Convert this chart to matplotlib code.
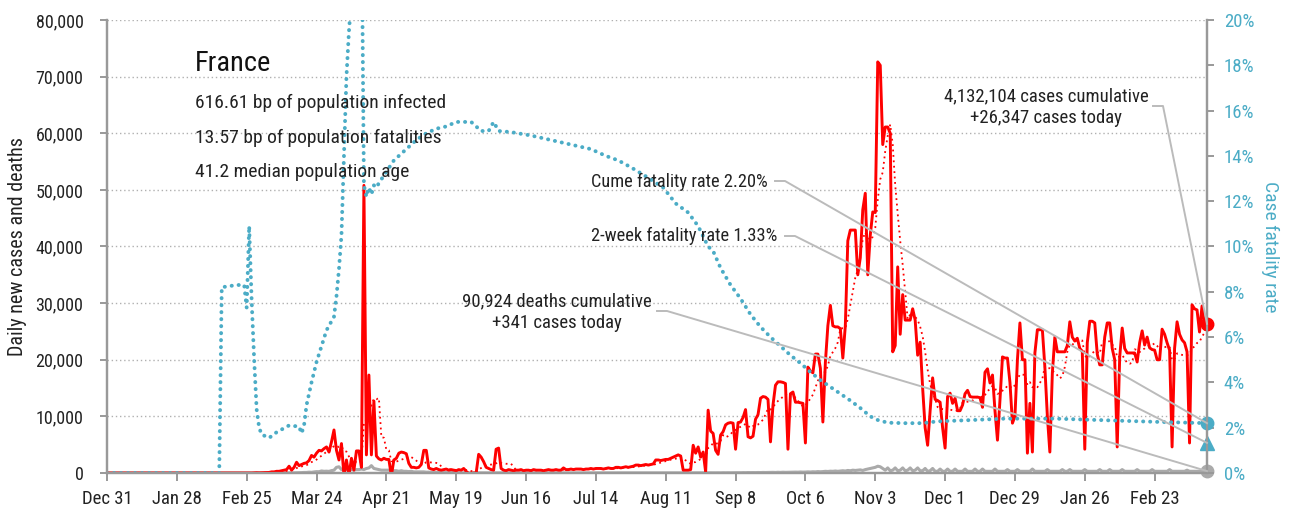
import pandas as pd
import matplotlib
matplotlib.use("Agg")
import matplotlib.pyplot as plt
import matplotlib.dates as mdates
from matplotlib import font_manager as fm
from matplotlib.lines import Line2D

# --- Schrift: schmale Grotesk, falls vorhanden ---
installed = {f.name for f in fm.fontManager.ttflist}
base = next((n for n in ["Liberation Sans Narrow", "Roboto Condensed"] if n in installed), "Liberation Sans")
plt.rcParams["font.family"] = [base, "DejaVu Sans"]

W, H = 1297, 511
RED, TEAL, GREY = "#ff0000", "#4bacc6", "#aaaaaa"

# --- Daten (ab 31.12.2019, taeglich, in Tausend) ---
start = "2019-12-31"
new_cases_k = [
    0, 0, 0, 0, 0, 0, 0,  0, 0, 0, 0, 0, 0, 0,  0, 0, 0, 0, 0, 0, 0,  0, 0, 0, 0, 0, 0, 0,
    0, 0, 0, 0, 0, 0, 0,  0, 0, 0, 0, 0, 0, 0,  0, 0, 0, 0, 0, 0, 0,  0, 0, 0, 0, 0, 0, 0,
    0, 0, 0, 0.02, 0.05, 0.03, 0.05,
    0.06, 0.1, 0.1, 0.2, 0.2, 0.3, 0.3,
    0.4, 0.5, 0.6, 1.2, 0.5, 1.0, 1.9,
    1.3, 1.5, 1.7, 1.8, 2.2, 3.1, 2.8,
    3.5, 4.0, 3.9, 4.3, 4.6, 3.7, 5.5,
    7.6, 4.0, 2.3, 5.2, -0.5, 2.3, -0.5,
    2.6, 0.5, 3.9, 3.9, 1.0, 50.8, 3.2,
    17.3, 3.2, 12.7, 3.0, 2.5, 2.3, 2.6,
    2.4, 2.4, -0.5, 2.3, 2.6, 3.5, 3.7,
    3.6, 3.4, 1.7, 1.0, 1.0, 0.9, 1.0,
    1.5, 4.0, 4.0, 0.9, 0.7, 0.6, 0.8,
    0.6, 0.5, 0.6, 0.7, 0.5, 0.6, 0.5,
    0.4, 0.6, 0.5, 0.8, 0.3, -0.1, -0.1,
    0.0, 0.0, 3.3, 2.8, 2.0, 1.0, 0.8,
    0.6, 0.5, 4.2, 4.4, 0.8, 0.5, 0.4,
    0.6, 0.5, 0.4, 0.5, 0.5, 0.6, 0.4,
    0.5, 0.5, 0.4, 0.6, 0.5, 0.5, 0.5,
    0.4, 0.5, 0.6, 0.5, 0.5, 0.6, 0.5,
    0.5, 0.9, 0.6, 0.6, 0.7, 0.6, 0.7,
    0.7, 0.7, 0.6, 0.7, 0.7, 0.8, 0.7,
    0.8, 0.8, 0.8, 0.7, 0.8, 0.9, 0.8,
    0.8, 1.0, 1.0, 0.9, 1.0, 1.1, 1.0,
    1.1, 1.2, 1.4, 1.4, 1.3, 1.4, 1.5,
    1.4, 1.5, 1.6, 2.3, 2.3, 2.2, 2.3,
    2.4, 2.4, 2.6, 2.8, 3.0, 3.2, 3.0,
    0.5, 0.5, 0.5, 0.6, 4.9, 3.5, 4.6,
    2.8, 3.7, 0.2, 11.1, 7.4, 7.0, 4.0,
    3.3, 6.7, 7.3, 8.5, 8.8, 8.9, 8.8,
    4.2, 8.9, 9.0, 9.8, 11.2, 6.4, 6.2,
    6.5, 9.5, 10.3, 13.2, 13.5, 13.4, 13.0,
    5.5, 12.0, 15.5, 16.1, 16.1, 16.0, 15.8,
    4.2, 14.0, 14.3, 12.5, 12.5, 12.4, 12.3,
    5.3, 18.7, 18.0, 17.7, 21.0, 21.0, 18.5,
    9.0, 19.5, 26.0, 29.6, 26.0, 25.8, 25.8,
    25.5, 20.3, 26.0, 41.0, 42.9, 42.9, 42.9,
    35.0, 38.0, 46.5, 49.4, 35.0, 42.0, 46.1,
    46.0, 72.6, 72.0, 58.0, 61.1, 61.1, 60.0,
    21.4, 22.5, 36.4, 24.5, 31.5, 27.0, 27.0,
    27.0, 29.0, 27.0, 20.8, 23.1, 15.0, 8.0,
    4.9, 11.0, 16.8, 13.0, 12.8, 12.5, 8.0,
    4.4, 13.5, 14.1, 12.3, 13.2, 11.0, 11.0,
    12.0, 14.0, 14.6, 13.5, 13.4, 13.4, 13.4,
    13.3, 11.6, 17.8, 18.4, 15.9, 17.3, 11.0,
    5.8, 12.9, 20.5, 20.3, 20.3, 16.0, 8.8,
    10.0, 20.0, 26.5, 20.0, 20.0, 3.5, 12.3,
    3.7, 21.2, 25.3, 25.3, 25.3, 18.7, 10.0,
    3.7, 17.7, 24.0, 21.4, 21.4, 21.4, 21.4,
    22.5, 26.7, 24.0, 23.3, 23.8, 22.0, 21.5,
    4.2, 23.0, 26.8, 26.8, 26.5, 21.0, 19.1,
    19.1, 24.0, 26.5, 26.5, 22.0, 20.0, 4.6,
    20.5, 25.6, 22.0, 21.2, 21.2, 21.2, 21.2,
    19.6, 23.0, 25.1, 22.6, 24.0, 22.1, 21.8,
    21.7, 20.0, 20.0, 25.4, 24.5, 23.0, 21.7,
    4.6, 22.0, 26.7, 24.5, 23.5, 23.0, 21.4,
    5.3, 29.7, 29.0, 28.8, 24.9, 29.5, 26.1,
    26.347,
]
new_deaths_k = [
    0, 0, 0, 0, 0, 0, 0,  0, 0, 0, 0, 0, 0, 0,  0, 0, 0, 0, 0, 0, 0,
    0, 0, 0, 0, 0, 0, 0,  0, 0, 0, 0, 0, 0, 0,  0, 0, 0, 0, 0, 0, 0,
    0, 0, 0, 0, 0.001, 0, 0,
    0, 0, 0, 0, 0, 0, 0,
    0, 0, 0, 0.001, 0, 0, 0.001,
    0, 0.001, 0.002, 0.001, 0.003, 0.005, 0.009,
    0.01, 0.01, 0.015, 0.03, 0.02, 0.03, 0.04,
    0.05, 0.07, 0.1, 0.1, 0.15, 0.12, 0.19,
    0.24, 0.23, 0.36, 0.3, 0.32, 0.29, 0.42,
    0.5, 1.0, 1.1, 0.6, 0.8, 0.6, 0.8,
    0.6, 0.5, 0.6, 0.6, 0.7, 0.6, 0.8,
    0.9, 1.3, 0.8, 0.7, 0.6, 0.5, 0.5,
    0.5, 0.5, 0.4, 0.4, 0.4, 0.3, 0.4,
    0.3, 0.3, 0.25, 0.3, 0.2, 0.2, 0.2,
    0.2, 0.2, 0.15, 0.15, 0.1, 0.1, 0.1,
    0.1, 0.08, 0.1, 0.07, 0.06, 0.08, 0.05,
    0.05, 0.06, 0.04, 0.03, 0.05, 0.03, 0.03,
    0.03, 0.02, 0.03, 0.02, 0.03, 0.02, 0.03,
    0.02, 0.03, 0.02, 0.03, 0.02, 0.02, 0.03,
    0.02, 0.02, 0.03, 0.02, 0.02, 0.02, 0.02,
    0.02, 0.02, 0.02, 0.01, 0.02, 0.02, 0.02,
    0.01, 0.02, 0.01, 0.02, 0.01, 0.02, 0.01,
    0.01, 0.02, 0.01, 0.01, 0.02, 0.01, 0.01,
    0.01, 0.01, 0.02, 0.01, 0.01, 0.01, 0.02,
    0.01, 0.01, 0.01, 0.02, 0.01, 0.01, 0.01,
    0.01, 0.02, 0.01, 0.01, 0.01, 0.02, 0.01,
    0.01, 0.01, 0.02, 0.01, 0.02, 0.01, 0.01,
    0.02, 0.01, 0.02, 0.01, 0.02, 0.02, 0.01,
    0.02, 0.02, 0.01, 0.02, 0.02, 0.02, 0.02,
    0.02, 0.02, 0.02, 0.03, 0.02, 0.03, 0.02,
    0.02, 0.03, 0.02, 0.03, 0.04, 0.03, 0.03,
    0.04, 0.03, 0.05, 0.04, 0.05, 0.04, 0.05,
    0.05, 0.06, 0.05, 0.07, 0.06, 0.08, 0.07,
    0.08, 0.07, 0.09, 0.08, 0.1, 0.09, 0.1,
    0.1, 0.12, 0.1, 0.13, 0.11, 0.14, 0.12,
    0.13, 0.15, 0.14, 0.16, 0.15, 0.18, 0.16,
    0.17, 0.2, 0.18, 0.22, 0.2, 0.25, 0.22,
    0.25, 0.3, 0.27, 0.32, 0.3, 0.35, 0.3,
    0.35, 0.4, 0.35, 0.45, 0.4, 0.5, 0.45,
    0.5, 0.55, 0.45, 0.6, 0.7, 0.8, 0.9,
    1.0, 1.2, 1.1, 0.8, 0.5, 0.9, 0.4,
    0.5, 0.9, 0.4, 0.5, 0.9, 0.4, 0.5,
    0.9, 0.4, 0.5, 0.9, 0.4, 0.4, 0.8,
    0.3, 0.4, 0.8, 0.3, 0.3, 0.7, 0.3,
    0.3, 0.7, 0.3, 0.3, 0.7, 0.3, 0.3,
    0.3, 0.7, 0.3, 0.3, 0.3, 0.7, 0.3,
    0.3, 0.7, 0.3, 0.3, 0.3, 0.3, 0.7,
    0.3, 0.3, 0.3, 0.3, 0.6, 0.3, 0.3,
    0.3, 0.6, 0.3, 0.3, 0.3, 0.3, 0.3,
    0.7, 0.3, 0.3, 0.3, 0.3, 0.3, 0.6,
    0.3, 0.3, 0.3, 0.3, 0.3, 0.6, 0.3,
    0.3, 0.6, 0.3, 0.3, 0.3, 0.3, 0.3,
    0.6, 0.3, 0.3, 0.3, 0.3, 0.3, 0.6,
    0.3, 0.3, 0.3, 0.6, 0.3, 0.3, 0.3,
    0.3, 0.6, 0.3, 0.3, 0.3, 0.3, 0.3,
    0.6, 0.3, 0.3, 0.3, 0.3, 0.3, 0.6,
    0.3, 0.3, 0.3, 0.3, 0.3, 0.3, 0.6,
    0.3, 0.3, 0.3, 0.3, 0.3, 0.3, 0.5,
    0.3, 0.3, 0.3, 0.3, 0.3, 0.3, 0.3,
    0.341,
]
# kumulative Fallsterblichkeit (%), Tage seit 31.12.2019
cfr_day = [0, 45, 46, 52, 55, 56, 57, 58, 59, 60, 61, 62, 65, 68, 73, 77, 78, 79, 80, 82,
           84, 86, 88, 91, 92, 93, 94, 95, 96, 97, 98, 99, 100, 101, 102, 103, 104, 105,
           106, 107, 108, 109, 112, 115, 118, 121, 124, 128, 132, 136, 140, 146, 150, 153,
           155, 157, 162, 170, 178, 186, 194, 200, 205, 210, 216, 223, 228, 233, 237, 241,
           243, 246, 250, 254, 258, 262, 266, 270, 274, 278, 282, 286, 290, 294, 298, 302,
           306, 309, 313, 320, 327, 333, 345, 360, 380, 400, 420, 441]
cfr_pct = [0, 0, 8.2, 8.3, 8.3, 7.3, 10.9, 7.6, 5.0, 2.8, 2.0, 1.7, 1.55, 1.8, 2.1, 2.05, 1.75,
           2.1, 3.0, 4.0, 4.9, 5.6, 6.3, 6.9, 7.8, 9.0, 10.5, 14.0, 17.5, 19.5, 21.0, 22.5,
           23.5, 24.5, 25.5, 12.7, 12.2, 12.6, 12.3, 12.7, 12.6, 12.8, 13.3, 13.8, 14.1,
           14.4, 14.7, 15.0, 15.2, 15.3, 15.5, 15.5, 15.1, 15.1, 15.5, 15.1, 15.05, 14.9,
           14.7, 14.5, 14.3, 14.0, 13.8, 13.5, 13.1, 12.6, 11.9, 11.5, 10.9, 10.0, 9.8, 9.05,
           8.3, 7.7, 7.0, 6.45, 6.0, 5.6, 5.2, 4.85, 4.46, 4.1, 3.8, 3.5, 3.2, 2.87, 2.5,
           2.34, 2.22, 2.2, 2.2, 2.28, 2.33, 2.4, 2.4, 2.33, 2.26, 2.2]
two_week_cfr = 1.33
x_ticks = pd.date_range("2019-12-31", "2021-02-23", freq="28D")

title = "France"
facts = ["616.61 bp of population infected",
         "13.57 bp of population fatalities",
         "41.2 median population age"]
note_cases = "4,132,104 cases cumulative\n+26,347 cases today"
note_cume = "Cume fatality rate 2.20%"
note_2wk = "2-week fatality rate 1.33%"
note_deaths = "90,924 deaths cumulative\n+341 cases today"

# --- Aufbereitung ---
days = pd.date_range(start, periods=len(new_cases_k), freq="D")
cases = pd.Series(new_cases_k, index=days) * 1000
deaths = pd.Series(new_deaths_k, index=days) * 1000
avg7 = cases.rolling(7, min_periods=1).mean()
cfr_dates = pd.Timestamp(start) + pd.to_timedelta(cfr_day, unit="D")

fig = plt.figure(figsize=(W / 100, H / 100), dpi=100)
ax = fig.add_axes([107 / W, 1 - 473 / H, 1100 / W, 453 / H])
ax2 = ax.twinx()

ax.plot(days, deaths, color=GREY, lw=2.2, zorder=3)
ax.plot(days, avg7, color=RED, lw=1.3, ls=(0, (1, 2)), zorder=4)
ax.plot(days, cases, color=RED, lw=2.1, zorder=5)
ax.plot(days[-1], cases.iloc[-1], "o", color=RED, ms=9, zorder=6, clip_on=False)
ax.plot(days[-1], deaths.iloc[-1], "o", color=GREY, ms=9, zorder=6, clip_on=False)

ax2.plot(cfr_dates, cfr_pct, color=TEAL, lw=2.8, ls=(0, (0.05, 1.75)),
         dash_capstyle="round")
ax2.plot(days[-1], cfr_pct[-1], "o", color=TEAL, ms=9, clip_on=False)
ax2.plot(days[-1], two_week_cfr, "^", color=TEAL, ms=10, clip_on=False)

ax.set_xlim(pd.Timestamp(start), days[-1])
ax.set_ylim(0, 80000)
ax2.set_ylim(0, 20)
ax.set_yticks(range(0, 80001, 10000))
ax.set_yticklabels([f"{v:,}" for v in range(0, 80001, 10000)])
ax2.set_yticks(range(0, 21, 2))
ax2.set_yticklabels([f"{v}%" for v in range(0, 21, 2)])
ax.set_xticks(x_ticks)
ax.set_xticklabels([f"{d:%b} {d.day}" for d in x_ticks])

for y in range(10000, 80001, 10000):
    ax.axhline(y, color="#b0b0b0", lw=1.0, ls=(0, (1, 2)), zorder=1)

for a in (ax, ax2):
    a.spines["top"].set_visible(False)
    for s in ("left", "right", "bottom"):
        a.spines[s].set_color("#999999")
        a.spines[s].set_linewidth(1.6)
ax.tick_params(axis="x", colors="#999999", labelcolor="#222222", labelsize=13.5,
               length=6, width=1.4, pad=6)
ax.tick_params(axis="y", colors="#999999", labelcolor="#222222", labelsize=13,
               length=5, width=1.4, pad=12)
ax2.tick_params(axis="y", colors="#999999", labelcolor=TEAL, labelsize=13.5,
                length=5, width=1.4, pad=7)
ax.set_ylabel("Daily new cases and deaths", fontsize=14.5, color="#222222", labelpad=6)
ax2.set_ylabel("Case fatality rate", fontsize=14, color=TEAL, rotation=270, labelpad=18)

# --- Texte ---
def fx(x): return x / W
def fy(y): return 1 - y / H

fig.text(fx(195), fy(63), title, fontsize=20.5, color="#111111", va="center")
for i, line in enumerate(facts):
    fig.text(fx(195), fy(103 + 34.5 * i), line, fontsize=14, color="#222222", va="center")

fig.text(fx(1046), fy(107), note_cases, fontsize=13.5, color="#222222", ha="center",
         va="center", multialignment="center", linespacing=1.3)
fig.text(fx(768), fy(182), note_cume, fontsize=13.2, color="#222222", ha="right", va="center")
fig.text(fx(777), fy(236), note_2wk, fontsize=13.2, color="#222222", ha="right", va="center")
fig.text(fx(557), fy(312), note_deaths, fontsize=13.5, color="#222222", ha="center",
         va="center", multialignment="center", linespacing=1.3)

to_fig = fig.transFigure.inverted()
def leader(x0, y0, axes, yval):
    tx, ty = to_fig.transform(axes.transData.transform((mdates.date2num(days[-1]), yval)))
    fig.add_artist(Line2D([fx(x0), fx(x0 + 10), tx], [fy(y0), fy(y0), ty],
                          transform=fig.transFigure, color="#bbbbbb", lw=1.4, zorder=10))

leader(1153, 106, ax, cases.iloc[-1])
leader(775, 181, ax2, cfr_pct[-1])
leader(785, 236, ax2, two_week_cfr)
leader(657, 311, ax, deaths.iloc[-1])

fig.savefig("out.png", dpi=100)
